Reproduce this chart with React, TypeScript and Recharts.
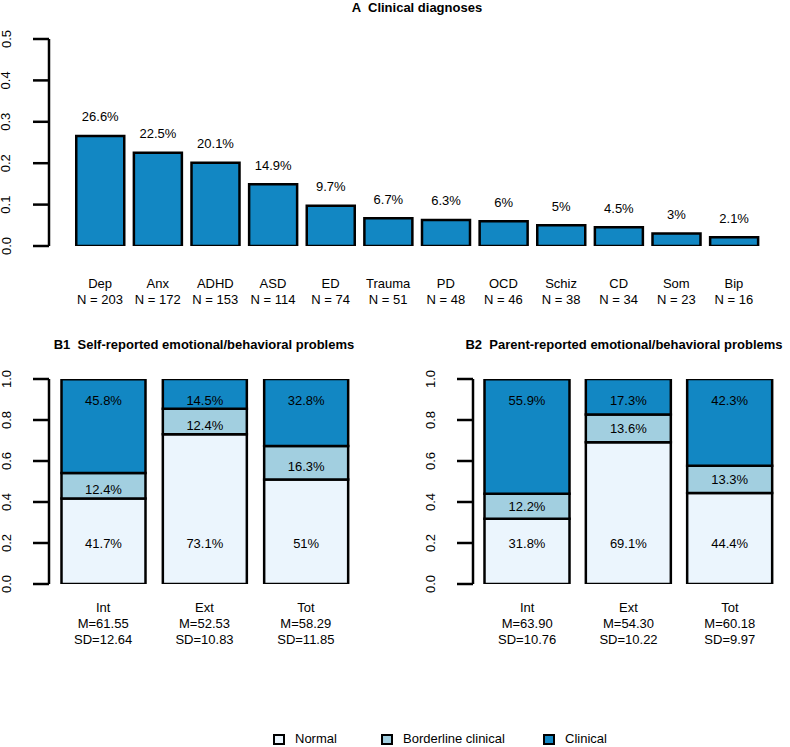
import React from 'react';
import { BarChart, Bar, XAxis, YAxis, LabelList } from 'recharts';

const FONT = "'Liberation Sans', Arial, Helvetica, sans-serif";
const CLIN = '#1287C3';
const BORD = '#A2CFE0';
const NORM = '#EBF5FD';

const diagCats = ['Dep', 'Anx', 'ADHD', 'ASD', 'ED', 'Trauma', 'PD', 'OCD', 'Schiz', 'CD', 'Som', 'Bip'];
const diagPct = [26.6, 22.5, 20.1, 14.9, 9.7, 6.7, 6.3, 6, 5, 4.5, 3, 2.1];
const diagN = [203, 172, 153, 114, 74, 51, 48, 46, 38, 34, 23, 16];
const diagTicks = [0, 10, 20, 30, 40, 50];

const scaleCats = ['Int', 'Ext', 'Tot'];
const selfNormal = [41.7, 73.1, 51];
const selfBorder = [12.4, 12.4, 16.3];
const selfClin = [45.8, 14.5, 32.8];
const selfM = ['61.55', '52.53', '58.29'];
const selfSD = ['12.64', '10.83', '11.85'];

const parNormal = [31.8, 69.1, 44.4];
const parBorder = [12.2, 13.6, 13.3];
const parClin = [55.9, 17.3, 42.3];
const parM = ['63.90', '54.30', '60.18'];
const parSD = ['10.76', '10.22', '9.97'];
const propTicks = [0, 20, 40, 60, 80, 100];

const legendItems = [
  { name: 'Normal', color: NORM },
  { name: 'Borderline clinical', color: BORD },
  { name: 'Clinical', color: CLIN },
];

const diagData = diagCats.map((c, i) => ({ cat: c, pct: diagPct[i] }));

const box = (p: any) => {
  const vb = p.viewBox || {};
  return {
    x: Number(p.x ?? vb.x),
    y: Number(p.y ?? vb.y),
    w: Number(p.width ?? vb.width),
    h: Number(p.height ?? vb.height),
  };
};

const txt = { fontFamily: FONT, fontSize: 13, fill: '#000' } as const;

const YTick = (props: any) => {
  const { x, y, payload } = props;
  return (
    <text x={x} y={y} transform={`rotate(-90 ${x} ${y})`} textAnchor="middle" dominantBaseline="central" {...txt}>
      {(payload.value / 100).toFixed(1)}
    </text>
  );
};

const DiagTick = (props: any) => {
  const { x, y, payload } = props;
  const i = diagCats.indexOf(payload.value);
  return (
    <g>
      <text x={x} y={y + 37} textAnchor="middle" dominantBaseline="central" {...txt}>{payload.value}</text>
      <text x={x} y={y + 53} textAnchor="middle" dominantBaseline="central" {...txt}>{`N = ${diagN[i]}`}</text>
    </g>
  );
};

const axisStyle = { stroke: '#000', strokeWidth: 2.5 };

const TitleDiv = ({ text, left, width, top }: any) => (
  <div
    style={{
      position: 'absolute', left, top, width, textAlign: 'center', fontFamily: FONT, fontSize: 13,
      fontWeight: 'bold', lineHeight: '13px', whiteSpace: 'pre', color: '#000',
    }}
  >
    {text}
  </div>
);

const StackChart = ({ left, width, marginRight, barSize, normal, border, clin, means, sds, borderDy }: any) => {
  const data = scaleCats.map((c, i) => ({ cat: c, normal: normal[i], border: border[i], clin: clin[i] }));
  const STick = (props: any) => {
    const { x, y, payload } = props;
    const i = scaleCats.indexOf(payload.value);
    return (
      <g>
        <text x={x} y={y + 23} textAnchor="middle" dominantBaseline="central" {...txt}>{payload.value}</text>
        <text x={x} y={y + 39} textAnchor="middle" dominantBaseline="central" {...txt}>{`M=${means[i]}`}</text>
        <text x={x} y={y + 55} textAnchor="middle" dominantBaseline="central" {...txt}>{`SD=${sds[i]}`}</text>
      </g>
    );
  };
  const fmt = (v: number) => `${v}%`;
  return (
    <div style={{ position: 'absolute', left, top: 360 }}>
      <BarChart width={width} height={300} data={data} margin={{ top: 19, right: marginRight, bottom: 0, left: 0 }} barSize={barSize}>
        <XAxis dataKey="cat" type="category" axisLine={false} tickLine={false} tickSize={0} tickMargin={0}
          interval={0} height={76} padding={{ left: 3.5, right: 0 }} tick={<STick />} />
        <YAxis type="number" domain={[0, 100]} allowDataOverflow ticks={propTicks} interval={0} width={49}
          tickSize={16} tickMargin={27} axisLine={axisStyle} tickLine={axisStyle} tick={<YTick />} />
        <Bar dataKey="normal" stackId="s" fill={NORM} stroke="#000" strokeWidth={2.5} isAnimationActive={false}>
          <LabelList dataKey="normal" content={(p: any) => {
            const b = box(p);
            const v = Number(p.value);
            return <text x={b.x + b.w / 2} y={b.y + b.h - (20 * b.h) / v} textAnchor="middle" dominantBaseline="central" {...txt}>{fmt(v)}</text>;
          }} />
        </Bar>
        <Bar dataKey="border" stackId="s" fill={BORD} stroke="#000" strokeWidth={2.5} isAnimationActive={false}>
          <LabelList dataKey="border" content={(p: any) => {
            const b = box(p);
            return <text x={b.x + b.w / 2} y={b.y + b.h / 2 + borderDy} textAnchor="middle" dominantBaseline="central" {...txt}>{fmt(Number(p.value))}</text>;
          }} />
        </Bar>
        <Bar dataKey="clin" stackId="s" fill={CLIN} stroke="#000" strokeWidth={2.5} isAnimationActive={false}>
          <LabelList dataKey="clin" content={(p: any) => {
            const b = box(p);
            const v = Number(p.value);
            return <text x={b.x + b.w / 2} y={b.y + (10 * b.h) / v + 1} textAnchor="middle" dominantBaseline="central" {...txt}>{fmt(v)}</text>;
          }} />
        </Bar>
      </BarChart>
    </div>
  );
};

export default function App() {
  return (
    <div style={{ position: 'absolute', left: 0, top: 0, width: 790, height: 747, background: '#fff', overflow: 'hidden' }}>
      <TitleDiv text="A  Clinical diagnoses" left={76} width={682} top={1} />
      <div style={{ position: 'absolute', left: 0, top: 0 }}>
        <BarChart width={790} height={310} data={diagData} margin={{ top: 39, right: 27.25, bottom: 0, left: 0 }} barSize={48}>
          <XAxis dataKey="cat" type="category" axisLine={false} tickLine={false} tickSize={0} tickMargin={0}
            interval={0} height={64} padding={{ left: 22.25, right: 0 }} tick={<DiagTick />} />
          <YAxis type="number" domain={[0, 50]} allowDataOverflow ticks={diagTicks} interval={0} width={49}
            tickSize={16} tickMargin={27} axisLine={axisStyle} tickLine={axisStyle} tick={<YTick />} />
          <Bar dataKey="pct" fill={CLIN} stroke="#000" strokeWidth={2.5} isAnimationActive={false}>
            <LabelList dataKey="pct" content={(p: any) => {
              const b = box(p);
              return <text x={b.x + b.w / 2} y={b.y - 19} textAnchor="middle" dominantBaseline="central" {...txt}>{`${p.value}%`}</text>;
            }} />
          </Bar>
        </BarChart>
      </div>

      <TitleDiv text="B1  Self-reported emotional/behavioral problems" left={0} width={408} top={338} />
      <TitleDiv text="B2  Parent-reported emotional/behavioral problems" left={420} width={408} top={338} />

      <StackChart left={0} width={395} marginRight={38.5} barSize={84} normal={selfNormal} border={selfBorder}
        clin={selfClin} means={selfM} sds={selfSD} borderDy={4} />
      <StackChart left={424} width={366} marginRight={9.5} barSize={85} normal={parNormal} border={parBorder}
        clin={parClin} means={parM} sds={parSD} borderDy={0} />

      {legendItems.map((it, i) => (
        <div key={it.name} style={{ position: 'absolute', left: [273, 381, 543][i], top: 731, display: 'flex', alignItems: 'center', fontFamily: FONT, fontSize: 13, lineHeight: '15px', color: '#000', whiteSpace: 'nowrap' }}>
          <span style={{ display: 'inline-block', width: 8, height: 7, border: '2px solid #000', background: it.color, marginRight: 10, marginTop: 2 }} />
          <span>{it.name}</span>
        </div>
      ))}
    </div>
  );
}
